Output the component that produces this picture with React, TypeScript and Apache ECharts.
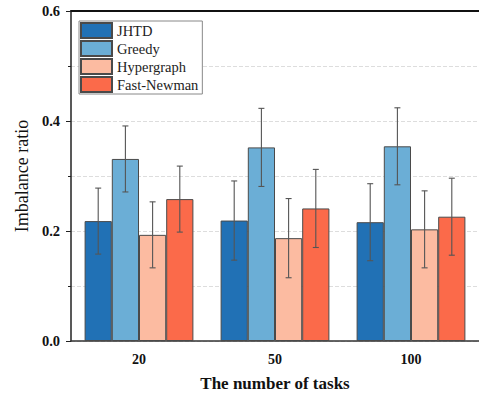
import React, { useEffect, useRef } from "react";
import * as echarts from "echarts";

const categories = ["20", "50", "100"];
const seriesNames = ["JHTD", "Greedy", "Hypergraph", "Fast-Newman"];
const jhtd = [0.218, 0.219, 0.216];
const greedy = [0.331, 0.352, 0.354];
const hypergraph = [0.193, 0.187, 0.203];
const fastNewman = [0.258, 0.241, 0.226];
const jhtdErr = [0.06, 0.072, 0.07];
const greedyErr = [0.06, 0.071, 0.07];
const hypergraphErr = [0.06, 0.072, 0.07];
const fastNewmanErr = [0.06, 0.071, 0.07];
const yTicks = ["0.0", "0.2", "0.4", "0.6"];
const colors = ["#2171b5", "#6baed6", "#fcbba1", "#fb6a4a"];

const values = [jhtd, greedy, hypergraph, fastNewman];
const errs = [jhtdErr, greedyErr, hypergraphErr, fastNewmanErr];

const FONT = "Liberation Serif";

export default function App() {
  const ref = useRef<HTMLDivElement>(null);
  useEffect(() => {
    if (!ref.current) return;
    const chart = echarts.init(ref.current, undefined, { renderer: "svg" });
    const barSeries = seriesNames.map((name, i) => ({
      name,
      type: "bar",
      data: values[i],
      barGap: "0%",
      barCategoryGap: "20%",
      itemStyle: { color: colors[i], borderColor: "#4a4a4a", borderWidth: 1 },
      z: 2,
    }));
    const errSeries = seriesNames.map((name, i) => ({
      name: name + "-err",
      type: "custom",
      z: 5,
      data: values[i].map((v, k) => [k, v, errs[i][k]]),
      renderItem: (params: any, api: any) => {
        const k = api.value(0);
        const v = api.value(1);
        const e = api.value(2);
        const band = api.size([1, 0])[0];
        const cx = api.coord([k, 0])[0] + (i - 1.5) * band * 0.2;
        const yT = api.coord([k, v + e])[1];
        const yB = api.coord([k, v - e])[1];
        const cap = 3;
        const style = { stroke: "#555", lineWidth: 1.1 };
        return {
          type: "group",
          children: [
            { type: "line", shape: { x1: cx, y1: yT, x2: cx, y2: yB }, style },
            { type: "line", shape: { x1: cx - cap, y1: yT, x2: cx + cap, y2: yT }, style },
            { type: "line", shape: { x1: cx - cap, y1: yB, x2: cx + cap, y2: yB }, style },
          ],
        };
      },
    }));
    chart.setOption({
      animation: false,
      textStyle: { fontFamily: FONT },
      grid: { left: 71, top: 11, width: 409, height: 330, containLabel: false },
      legend: {
        data: seriesNames,
        orient: "vertical",
        left: 79,
        top: 21,
        itemWidth: 31,
        itemHeight: 15,
        itemGap: 1,
        padding: [1, 4, 1, 1],
        borderColor: "#888",
        borderWidth: 1,
        backgroundColor: "#fff",
        icon: "rect",
        textStyle: { fontFamily: FONT, fontSize: 14.5, lineHeight: 15, color: "#222" },
      },
      xAxis: [
        {
          type: "category",
          data: categories,
          axisLine: { lineStyle: { color: "#333", width: 1.5 } },
          axisTick: { alignWithLabel: true, length: 5, lineStyle: { color: "#333" }, interval: 0 },
          axisLabel: { fontFamily: FONT, fontSize: 14, fontWeight: "bold", color: "#111", margin: 11 },
          name: "The number of tasks",
          nameLocation: "middle",
          nameGap: 34,
          nameTextStyle: { fontFamily: FONT, fontSize: 17, fontWeight: "bold", color: "#111" },
        },
        {
          type: "category",
          data: categories,
          position: "top",
          axisLine: { lineStyle: { color: "#111", width: 2 } },
          axisTick: { show: false },
          axisLabel: { show: false },
        },
      ],
      yAxis: {
        type: "value",
        min: 0,
        max: 0.6,
        interval: 0.2,
        axisLine: { show: true, lineStyle: { color: "#222", width: 1.5 } },
        axisTick: { show: true, length: 5, lineStyle: { color: "#222" } },
        minorTick: { show: true, splitNumber: 2, length: 3, lineStyle: { color: "#222" } },
        splitLine: { show: true, lineStyle: { color: "#ddd", type: "dashed" } },
        minorSplitLine: { show: true, lineStyle: { color: "#ddd", type: "dashed" } },
        axisLabel: {
          fontFamily: FONT,
          fontSize: 14.5,
          fontWeight: "bold",
          color: "#111",
          margin: 11,
          formatter: (v: number) => yTicks[Math.round(v / 0.2)] ?? "",
        },
        name: "Imbalance ratio",
        nameLocation: "middle",
        nameGap: 35,
        nameTextStyle: { fontFamily: FONT, fontSize: 18, color: "#111" },
      },
      series: [...barSeries, ...errSeries],
    });
    return () => chart.dispose();
  }, []);
  return <div ref={ref} style={{ width: 479, height: 399, position: "absolute", left: 0, top: 0 }} />;
}
